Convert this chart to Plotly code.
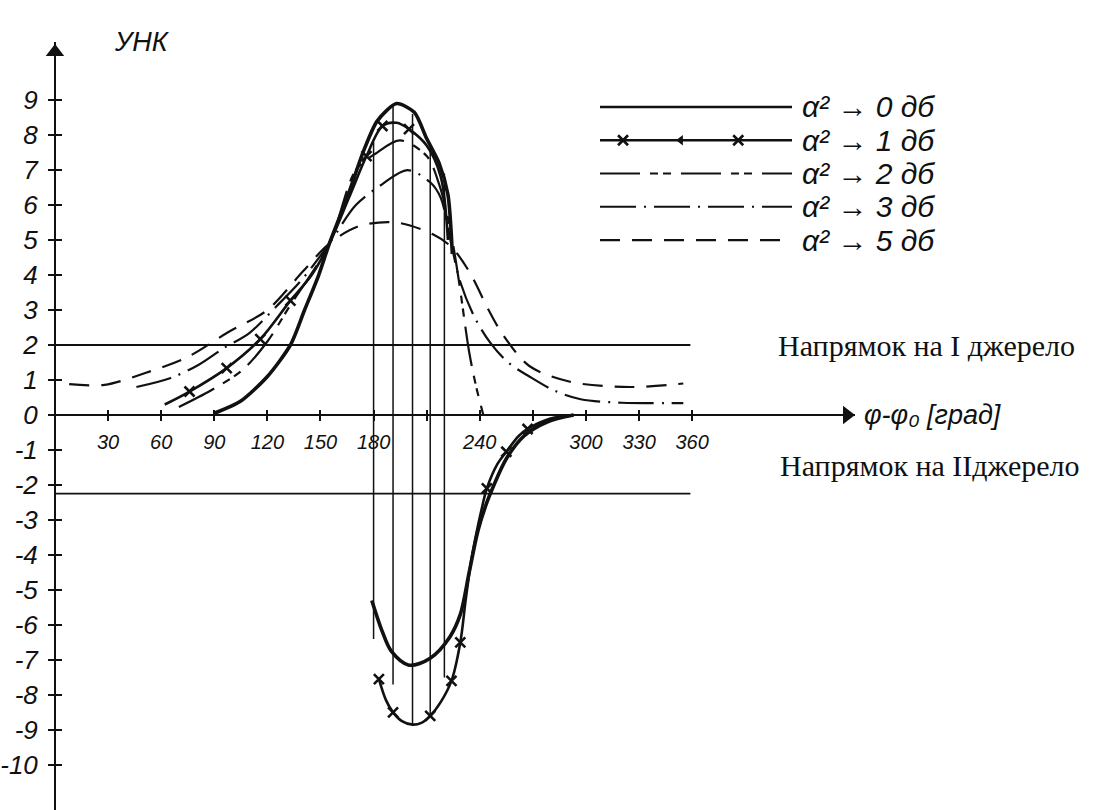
import plotly.graph_objects as go

W, H = 1101, 810

# ---- data: УНК versus phase difference φ-φ0 (degrees) ----
# 0 dB: upper branch and lower branch
DB0_UP_X = [90, 105, 120, 133, 141, 149, 155, 165, 174, 182, 193, 203, 210, 217, 222, 224.5]
DB0_UP_Y = [0.05, 0.4, 1.1, 2.0, 3.0, 4.0, 4.9, 6.2, 7.5, 8.4, 8.9, 8.65, 7.9, 7.2, 6.3, 4.6]
DB0_LO_X = [179, 185, 190, 200, 212, 223, 229, 234, 239, 244, 248, 255, 265, 278, 293]
DB0_LO_Y = [-5.3, -6.2, -6.75, -7.15, -6.95, -6.35, -5.7, -4.5, -3.3, -2.5, -2.0, -1.25, -0.6, -0.2, 0.0]

# 1 dB: upper and lower branches, indices of the starred points
DB1_UP_X = [62, 76, 97, 116, 133, 145, 155, 166, 176, 185, 193, 200, 210, 218, 222]
DB1_UP_Y = [0.3, 0.67, 1.34, 2.17, 3.27, 4.0, 4.9, 6.2, 7.4, 8.26, 8.35, 8.17, 7.7, 6.8, 5.0]
DB1_UP_STARS = [1, 2, 3, 4, 8, 9, 11]
DB1_LO_X = [183, 187, 191, 196, 202, 207, 212, 218, 224, 229, 232, 235, 238, 241, 244, 250, 255, 262, 267, 280, 293]
DB1_LO_Y = [-7.55, -8.15, -8.5, -8.75, -8.85, -8.8, -8.6, -8.2, -7.6, -6.5, -5.3, -4.2, -3.4, -2.7, -2.1,
            -1.4, -1.05, -0.6, -0.4, -0.1, 0.0]
DB1_LO_STARS = [0, 2, 6, 8, 9, 14, 16, 18]

# 2 dB
DB2_X = [70, 88, 106, 120, 132, 155, 170, 182, 195, 210, 217, 223, 228, 234, 238, 242]
DB2_Y = [0.23, 0.7, 1.29, 2.1, 3.06, 4.9, 7.0, 7.5, 7.85, 7.4, 6.6, 5.4, 3.9, 1.8, 0.8, 0.0]

# 3 dB
DB3_X = [46, 65, 81, 95, 110, 125, 140, 155, 170, 185, 199, 212, 218, 223, 229, 237, 246, 256, 268, 282, 297, 320, 355]
DB3_Y = [0.8, 1.05, 1.43, 1.9, 2.35, 3.1, 3.9, 4.9, 6.0, 6.6, 7.0, 6.65, 6.2, 5.1, 3.8, 2.8, 2.06, 1.5, 1.1,
         0.7, 0.45, 0.35, 0.34]

# 5 dB
DB5_X = [8, 28, 51, 75, 98, 120, 140, 155, 172, 193, 214, 224, 234, 245, 253, 268, 291, 325, 355]
DB5_Y = [0.88, 0.86, 1.2, 1.66, 2.37, 3.0, 4.1, 4.9, 5.4, 5.5, 5.15, 4.8, 4.1, 3.0, 2.3, 1.4, 0.95, 0.8, 0.9]

# vertical chords joining the upper and lower branches
CHORD_X = [180, 191, 202, 212, 220]
CHORD_TOP = [7.8, 8.85, 8.6, 7.75, 6.9]
CHORD_BOTTOM = [-6.4, -7.7, -8.85, -8.6, -7.5]

# direction levels towards source I and source II
LEVEL_I = 2.0
LEVEL_II = -2.25
LEVEL_END = 359

X_TICKS = [30, 60, 90, 120, 150, 180, 210, 240, 270, 300, 330, 360]
X_LABELLED = [30, 60, 90, 120, 150, 180, 240, 300, 330, 360]
X_UNLABELLED = [210, 270]
Y_TICKS = [-10, -9, -8, -7, -6, -5, -4, -3, -2, -1, 0, 1, 2, 3, 4, 5, 6, 7, 8, 9]

LEGEND_LABELS = ["α² → 0 дб", "α² → 1 дб", "α² → 2 дб", "α² → 3 дб", "α² → 5 дб"]

# ---- styling ----
INK = "#111111"
HAND = "Liberation Sans Narrow, Liberation Sans, Arial, sans-serif"
SERIF = "Liberation Serif, Times New Roman, serif"

STYLES = [
    dict(width=3.6, dash="solid"),
    dict(width=2.6, dash="solid"),
    dict(width=2.2, dash="40px,10px,8px,5px,8px,10px"),
    dict(width=2.2, dash="36px,8px,2px,8px"),
    dict(width=2.2, dash="20px,12px"),
]

# axis geometry (pixels)
X_AXIS_LEFT, X_AXIS_RIGHT = 55, 855
Y_AXIS_TOP = 42
X_RANGE = [0, 452]
Y_RANGE = [-11.29, 10.66]
y_dom_top = 1 - Y_AXIS_TOP / H
x_axis_pos = (0 - Y_RANGE[0]) / (Y_RANGE[1] - Y_RANGE[0]) * y_dom_top
deg_per_px = (X_RANGE[1] - X_RANGE[0]) / (X_AXIS_RIGHT - X_AXIS_LEFT)
val_per_px = (Y_RANGE[1] - Y_RANGE[0]) / (H - Y_AXIS_TOP)

# key frame: samples span 600..792 px, labels continue to the right
KEY_LEFT, KEY_SAMPLE_RIGHT, KEY_RIGHT = 600, 792, 1090
key_range_right = (KEY_RIGHT - KEY_LEFT) / (KEY_SAMPLE_RIGHT - KEY_LEFT)

fig = go.Figure()


def curve(xs, ys, style, smoothing=0.9):
    fig.add_trace(go.Scatter(
        x=xs, y=ys, mode="lines", showlegend=False,
        line=dict(color=INK, width=style["width"], dash=style["dash"],
                  shape="spline", smoothing=smoothing),
        hoverinfo="skip"))


def stars(xs, ys, idx):
    fig.add_trace(go.Scatter(
        x=[xs[i] for i in idx], y=[ys[i] for i in idx], mode="markers",
        showlegend=False, hoverinfo="skip",
        marker=dict(symbol="x-thin", size=10, color=INK, line=dict(width=2.6, color=INK))))


# direction levels
for lvl in (LEVEL_I, LEVEL_II):
    fig.add_trace(go.Scatter(x=[0, LEVEL_END], y=[lvl, lvl], mode="lines", showlegend=False,
                             line=dict(color=INK, width=1.8), hoverinfo="skip"))

# chords
cx, cy = [], []
for x, t, b in zip(CHORD_X, CHORD_TOP, CHORD_BOTTOM):
    cx += [x, x, None]
    cy += [t, b, None]
fig.add_trace(go.Scatter(x=cx, y=cy, mode="lines", showlegend=False,
                         line=dict(color=INK, width=1.5), hoverinfo="skip"))

curve(DB5_X, DB5_Y, STYLES[4])
curve(DB3_X, DB3_Y, STYLES[3])
curve(DB2_X, DB2_Y, STYLES[2])
curve(DB1_UP_X, DB1_UP_Y, STYLES[1])
curve(DB1_LO_X, DB1_LO_Y, STYLES[1])
stars(DB1_UP_X, DB1_UP_Y, DB1_UP_STARS)
stars(DB1_LO_X, DB1_LO_Y, DB1_LO_STARS)
curve(DB0_UP_X, DB0_UP_Y, STYLES[0], smoothing=0.7)
curve(DB0_LO_X, DB0_LO_Y, STYLES[0])

# axis arrowheads at the ends of both axes
fig.add_trace(go.Scatter(x=[X_RANGE[1] - 8 * deg_per_px], y=[0], mode="markers",
                         showlegend=False, hoverinfo="skip", cliponaxis=False,
                         marker=dict(symbol="triangle-right", size=16, color=INK)))
fig.add_trace(go.Scatter(x=[0], y=[Y_RANGE[1] - 10 * val_per_px], mode="markers",
                         showlegend=False, hoverinfo="skip", cliponaxis=False,
                         marker=dict(symbol="triangle-up", size=16, color=INK)))

# ---- key (line samples drawn in their own small frame) ----
for k, st in enumerate(STYLES):
    fig.add_trace(go.Scatter(x=[0, 1], y=[k, k], mode="lines", xaxis="x3", yaxis="y3",
                             showlegend=False, hoverinfo="skip",
                             line=dict(color=INK, width=min(st["width"], 2.6), dash=st["dash"])))
fig.add_trace(go.Scatter(x=[0.12, 0.72], y=[1, 1], mode="markers", xaxis="x3", yaxis="y3",
                         showlegend=False, hoverinfo="skip",
                         marker=dict(symbol="x-thin", size=10, color=INK, line=dict(width=2.6, color=INK))))
fig.add_trace(go.Scatter(x=[0.42], y=[1], mode="markers", xaxis="x3", yaxis="y3",
                         showlegend=False, hoverinfo="skip",
                         marker=dict(symbol="triangle-left", size=9, color=INK)))

annotations = []
for k, lab in enumerate(LEGEND_LABELS):
    annotations.append(dict(x=1.04, y=k, xref="x3", yref="y3", text=lab, showarrow=False,
                            xanchor="left", yanchor="middle",
                            font=dict(family=HAND, size=30, color=INK, style="italic")))

# axis titles
annotations.append(dict(x=112 / W, y=1 - 25 / H, xref="paper", yref="paper", text="УНК",
                        showarrow=False, font=dict(family=HAND, size=27, color=INK, style="italic")))
annotations.append(dict(x=862 / W, y=x_axis_pos, xref="paper", yref="paper",
                        text="φ-φ₀ [град]",
                        showarrow=False, xanchor="left", yanchor="middle",
                        font=dict(family=HAND, size=27, color=INK, style="italic")))

# direction captions
annotations.append(dict(x=776 / W, y=1 - 345 / H, xref="paper", yref="paper",
                        text="Напрямок на I джерело",
                        showarrow=False, xanchor="left", yanchor="middle",
                        font=dict(family=SERIF, size=30, color=INK)))
annotations.append(dict(x=778 / W, y=1 - 465 / H, xref="paper", yref="paper",
                        text="Напрямок на IIджерело",
                        showarrow=False, xanchor="left", yanchor="middle",
                        font=dict(family=SERIF, size=30, color=INK)))

tick_font_y = dict(family=HAND, size=26, color=INK, style="italic")
tick_font_x = dict(family=HAND, size=20, color=INK, style="italic")

fig.update_layout(
    width=W, height=H,
    margin=dict(l=0, r=0, t=0, b=0),
    paper_bgcolor="white", plot_bgcolor="white",
    showlegend=False,
    annotations=annotations,
    xaxis=dict(domain=[X_AXIS_LEFT / W, X_AXIS_RIGHT / W], range=X_RANGE, anchor="free",
               position=x_axis_pos, showgrid=False, zeroline=False, showline=True,
               linecolor=INK, linewidth=2, ticks="outside", ticklen=5, tickwidth=2,
               tickcolor=INK, tickvals=X_LABELLED, ticktext=[str(v) for v in X_LABELLED],
               tickfont=tick_font_x, ticklabelstandoff=4,
               minor=dict(tickvals=X_UNLABELLED, ticks="outside", ticklen=5, tickwidth=2,
                          tickcolor=INK, showgrid=False)),
    xaxis2=dict(domain=[X_AXIS_LEFT / W, X_AXIS_RIGHT / W], range=X_RANGE, anchor="free",
                position=x_axis_pos, overlaying="x", showgrid=False, zeroline=False,
                showline=False, ticks="inside", ticklen=5, tickwidth=2, tickcolor=INK,
                tickvals=X_TICKS, showticklabels=False, side="bottom"),
    yaxis=dict(domain=[0, y_dom_top], range=Y_RANGE, anchor="free", position=X_AXIS_LEFT / W,
               showgrid=False, zeroline=False, showline=True, linecolor=INK, linewidth=2,
               ticks="outside", ticklen=6, tickwidth=2, tickcolor=INK, tickvals=Y_TICKS,
               ticktext=[str(v) for v in Y_TICKS], tickfont=tick_font_y, ticklabelstandoff=5),
    yaxis2=dict(domain=[0, y_dom_top], range=Y_RANGE, anchor="free", position=X_AXIS_LEFT / W,
                overlaying="y", showgrid=False, zeroline=False, showline=False,
                ticks="inside", ticklen=6, tickwidth=2, tickcolor=INK, tickvals=Y_TICKS,
                showticklabels=False, side="left"),
    xaxis3=dict(domain=[KEY_LEFT / W, KEY_RIGHT / W], range=[0, key_range_right],
                visible=False, anchor="y3"),
    yaxis3=dict(domain=[1 - 252 / H, 1 - 95 / H], range=[4.36, -0.36], visible=False, anchor="x3"),
)

# invisible carriers so the overlay axes render
fig.add_trace(go.Scatter(x=[None], y=[None], xaxis="x2", yaxis="y2", showlegend=False))

fig.write_html("out.html")
